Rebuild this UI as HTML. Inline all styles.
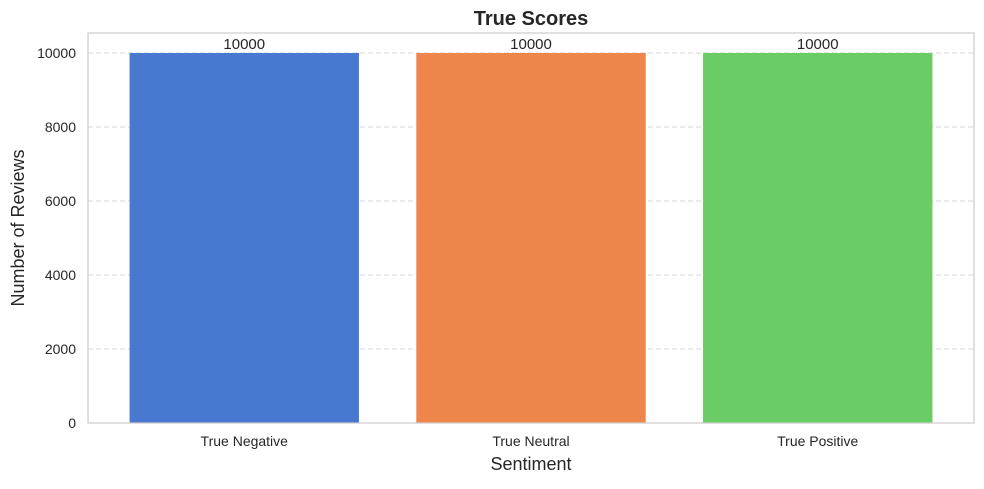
<!DOCTYPE html>
<html><head><meta charset="utf-8"><style>
body{margin:0;background:#fff;font-family:"Liberation Sans","DejaVu Sans",sans-serif;}
</style></head><body>
<svg id="chart" width="984" height="484" xmlns="http://www.w3.org/2000/svg" font-family="Liberation Sans, DejaVu Sans, sans-serif"></svg>
<script>
const categories = ["True Negative","True Neutral","True Positive"];
const counts = [10000,10000,10000];
const yTicks = [0,2000,4000,6000,8000,10000];
const colors = ["#4878d0","#ee854a","#6acc64"];

const svg = document.getElementById('chart');
const NS = "http://www.w3.org/2000/svg";
const L=88,R=974,T=33,B=423;
const yMax=10540, xMin=-0.545, xMax=categories.length-1+0.545;
const y = v => B - (v/yMax)*(B-T);
const x = i => L + (i-xMin)/(xMax-xMin)*(R-L);
const unit = (R-L)/(xMax-xMin);
function mk(tag, attrs, text){const e=document.createElementNS(NS,tag);for(const k in attrs)e.setAttribute(k,attrs[k]);if(text!==undefined)e.textContent=text;svg.appendChild(e);return e;}

yTicks.forEach(t=>{
  const g=mk('line',{x1:L,x2:R,y1:y(t),y2:y(t),stroke:'#d5d5d5','stroke-dasharray':'5,3','stroke-width':1});
  
  
  const l=mk('text',{x:L-12,y:y(t)+5,'text-anchor':'end','font-size':14,fill:'#262626'},t);
  
  
});
categories.forEach((c,i)=>{
  const w=0.8*unit;
  const b=mk('rect',{x:x(i)-w/2,y:y(counts[i]),width:w,height:B-y(counts[i]),fill:colors[i]});
  
  
  const v=mk('text',{x:x(i),y:y(counts[i])-4,'text-anchor':'middle','font-size':15,fill:'#262626'},counts[i]);
  
  
  const t=mk('text',{x:x(i),y:B+23,'text-anchor':'middle','font-size':14,fill:'#262626'},c);
  
  
});
const f=mk('rect',{x:L,y:T,width:R-L,height:B-T,fill:'none',stroke:'#cccccc','stroke-width':1.2});


const ti=mk('text',{x:(L+R)/2,y:25,'text-anchor':'middle','font-size':20,'font-weight':'bold',fill:'#262626'},'True Scores');


const xt=mk('text',{x:(L+R)/2,y:470,'text-anchor':'middle','font-size':18,fill:'#262626'},'Sentiment');


const yt=mk('text',{x:24,y:(T+B)/2,'text-anchor':'middle','font-size':18,fill:'#262626',transform:'rotate(-90 24 '+((T+B)/2)+')'},'Number of Reviews');


</script>
</body></html>
